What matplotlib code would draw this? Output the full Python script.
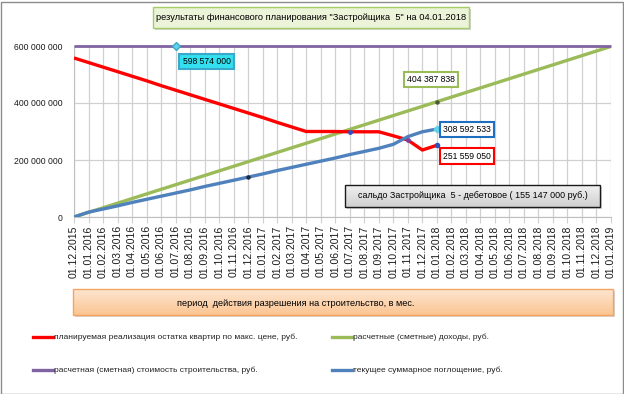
import matplotlib
matplotlib.use("Agg")
import matplotlib.pyplot as plt
from matplotlib.patches import Rectangle
from matplotlib.lines import Line2D
from matplotlib.colors import LinearSegmentedColormap
import numpy as np

plt.rcParams['font.family'] = ['Liberation Sans', 'DejaVu Sans']

dates = ["01.12.2015", "01.01.2016", "01.02.2016", "01.03.2016", "01.04.2016", "01.05.2016",
         "01.06.2016", "01.07.2016", "01.08.2016", "01.09.2016", "01.10.2016", "01.11.2016",
         "01.12.2016", "01.01.2017", "01.02.2017", "01.03.2017", "01.04.2017", "01.05.2017",
         "01.06.2017", "01.07.2017", "01.08.2017", "01.09.2017", "01.10.2017", "01.11.2017",
         "01.12.2017", "01.01.2018", "01.02.2018", "01.03.2018", "01.04.2018", "01.05.2018",
         "01.06.2018", "01.07.2018", "01.08.2018", "01.09.2018", "01.10.2018", "01.11.2018",
         "01.12.2018", "01.01.2019"]

# values in millions of rubles
red_sales = [558, 542, 526, 510, 494, 478, 461, 445, 429, 413, 397, 381, 365, 349, 332, 316,
             300, 300, 300, 299, 299, 299, 285, 270, 235, 251.559050]
green_income = [0, 16.2, 32.4, 48.5, 64.7, 80.9, 97.1, 113.2, 129.4, 145.6, 161.8, 177.9, 194.1,
                210.3, 226.5, 242.7, 258.8, 275.0, 291.2, 307.4, 323.5, 339.7, 355.9, 372.1,
                388.2, 404.387838, 420.6, 436.8, 452.9, 469.1, 485.3, 501.5, 517.7, 533.8,
                550.0, 566.2, 582.4, 598.574]
purple_cost = [598.574] * 38
blue_absorb = [0, 17, 28, 39, 51, 62, 73, 84, 95, 107, 118, 129, 140, 151, 163, 174, 185, 196,
               207, 219, 230, 241, 255, 282, 299, 308.592533]

y_ticks = [0, 200, 400, 600]
y_labels = ["0", "200 000 000", "400 000 000", "600 000 000"]

legend_labels = ["планируемая реализация остатка квартир по макс. цене, руб.",
                 "расчетные (сметные) доходы, руб.",
                 "расчетная (сметная) стоимость строительства, руб.",
                 "текущее суммарное поглощение, руб."]

title_text = "результаты финансового планирования \"Застройщика  5\" на 04.01.2018"
saldo_text = "сальдо Застройщика  5 - дебетовое ( 155 147 000 руб.)"
period_text = "период  действия разрешения на строительство, в мес."

RED = "#FF0000"
GREEN = "#9BBB59"
PURPLE = "#8064A2"
BLUE = "#4F81BD"

W, H = 624, 394
fig = plt.figure(figsize=(W / 100, H / 100), dpi=100)
fig.patch.set_facecolor("white")


def fx(px):
    return px / W


def fy(py):
    return 1 - py / H


def fig_box(x0, y0, x1, y1, ec, lw=1.0, fc=None, grad=None, shadow=False, z=5):
    if shadow:
        fig.add_artist(Rectangle((fx(x0 + 2), fy(y1 + 2)), fx(x1 - x0), (y1 - y0) / H,
                                 transform=fig.transFigure, fc="#d4d4d4", ec="none", zorder=z))
    if grad is not None:
        gax = fig.add_axes([fx(x0), fy(y1), fx(x1 - x0), (y1 - y0) / H], zorder=z + 0.1)
        cmap = LinearSegmentedColormap.from_list("g", grad)
        gax.imshow(np.linspace(0, 1, 64).reshape(-1, 1), aspect="auto", cmap=cmap,
                   extent=(0, 1, 0, 1), origin="upper")
        gax.set_axis_off()
        fig.add_artist(Rectangle((fx(x0), fy(y1)), fx(x1 - x0), (y1 - y0) / H,
                                 transform=fig.transFigure, fill=False, ec=ec, lw=lw, zorder=z + 0.2))
    else:
        fig.add_artist(Rectangle((fx(x0), fy(y1)), fx(x1 - x0), (y1 - y0) / H,
                                 transform=fig.transFigure, fc=fc, ec=ec, lw=lw, zorder=z + 0.1))


# outer border
fig.add_artist(Rectangle((0.5 / W, 0.5 / H), 1 - 2 / W, 1 - 2 / H, transform=fig.transFigure,
                         fill=False, edgecolor="#8c8c8c", linewidth=1.0))

left, right, top, bottom = 74, 611, 46, 217
ax = fig.add_axes([fx(left), fy(bottom), (right - left) / W, (bottom - top) / H], zorder=1)
x = np.arange(len(dates))
ax.set_xlim(0, len(dates) - 1)
ax.set_ylim(0, 600)

ax.plot(x[:len(red_sales)], red_sales, color=RED, lw=2.4, zorder=4, solid_capstyle="butt")
ax.plot(x, green_income, color=GREEN, lw=2.4, zorder=3, solid_capstyle="butt")
ax.plot(x, purple_cost, color=PURPLE, lw=2.0, zorder=3, solid_capstyle="butt", clip_on=False)
ax.plot(x[:len(blue_absorb)], blue_absorb, color=BLUE, lw=2.4, zorder=4, solid_capstyle="butt")

# markers
ax.plot(7, purple_cost[7], marker="D", ms=4.5, color="#5fd3e8", mec="#3aa8c8", zorder=6, clip_on=False)
ax.plot(25, green_income[25], marker="o", ms=2.2, color="#4a5a30", zorder=6)
ax.plot(12, blue_absorb[12], marker="o", ms=2.2, color="#1a2a40", zorder=6)
ax.plot(25, blue_absorb[25], marker="D", ms=3.5, color="#5fd3e8", zorder=6)
ax.plot(25, red_sales[25], marker="o", ms=3, color="#3050c0", zorder=6)
ax.plot(19, red_sales[19], marker="o", ms=2.5, color="#3050c0", zorder=6)
ax.plot(23, red_sales[23], marker="o", ms=2.5, color="#8040a0", zorder=6)

ax.set_xticks(x)
ax.set_xticklabels(dates, rotation=90, fontsize=7.5, color="#1a1a1a")
ax.set_yticks(y_ticks)
ax.set_yticklabels(y_labels, fontsize=6.2, color="#1a1a1a")
ax.grid(True, color="#d0d0d0", lw=0.9)
ax.set_axisbelow(True)
for s in ["top", "right"]:
    ax.spines[s].set_visible(False)
ax.spines["left"].set_color("#bfbfbf")
ax.spines["bottom"].set_color("#bfbfbf")
ax.tick_params(axis="x", length=4, color="#d0d0d0", pad=2)
ax.tick_params(axis="y", length=0, pad=8)


# data labels
def label(xd, yd, text, ec, fc="white", fs=6.2):
    ax.text(xd, yd, text, fontsize=fs, ha="center", va="center", zorder=8,
            bbox=dict(boxstyle="square,pad=0.35", fc=fc, ec=ec, lw=1.5))


label(9.13, 546, "598 574 000", "#3aa8c8", fc="#33e0f0")
label(24.6, 481, "404 387 838", GREEN)
label(27.1, 307, "308 592 533", "#1f6fc0")
label(27.1, 214, "251 559 050", RED)

# saldo box
fig_box(345, 185, 600, 207, ec="#1a1a1a", lw=1.0, grad=["#f2f2f2", "#d0d0d0"], shadow=True, z=5)
fig.text(fx(472.5), fy(196), saldo_text, fontsize=6.4, ha="center", va="center", zorder=7)

# title box
fig_box(153, 7, 469, 28, ec="#a6cc66", lw=1.0, fc="#ebf3d8", shadow=True, z=5)
fig.text(fx(311), fy(17.5), title_text, fontsize=6.65, ha="center", va="center", zorder=7)

# orange box
fig_box(73, 289, 613, 315, ec="#f4a460", lw=1.0, grad=["#fde6d2", "#fbc592"], shadow=True, z=5)
fig.text(fx(296), fy(303), period_text, fontsize=6.6, ha="center", va="center", zorder=7)

# legend
leg_pos = [(33, 337), (332, 337), (33, 370), (332, 370)]
leg_cols = [RED, GREEN, PURPLE, BLUE]
for (lx, ly), c, t in zip(leg_pos, leg_cols, legend_labels):
    fig.add_artist(Line2D([fx(lx), fx(lx + 20)], [fy(ly), fy(ly)], color=c, lw=2.4,
                          transform=fig.transFigure))
    fig.text(fx(lx + 21), fy(ly), t, fontsize=6.0, ha="left", va="center", color="#222222")

fig.savefig("out.png", dpi=100, facecolor="white")
